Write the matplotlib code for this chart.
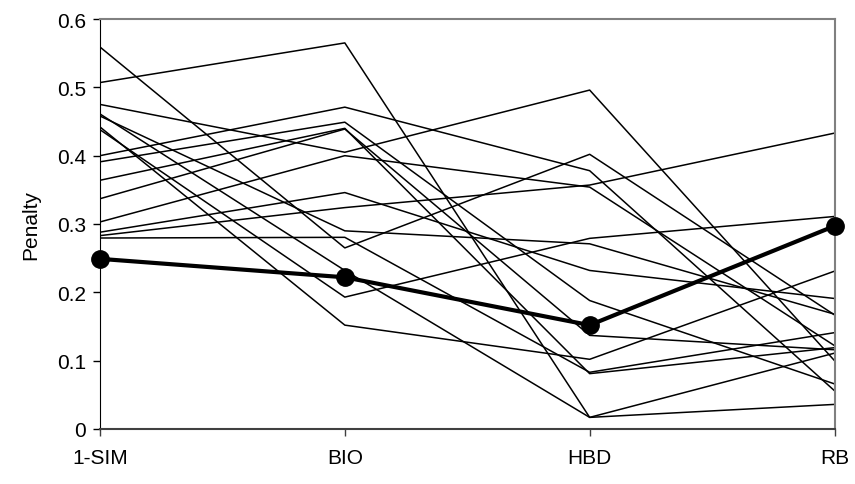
import matplotlib
matplotlib.use("Agg")
import matplotlib.pyplot as plt
import numpy as np

plt.rcParams["font.family"] = ["Liberation Sans", "DejaVu Sans"]

CATEGORIES = ["1-SIM", "BIO", "HBD", "RB"]

# individual problems (thin lines), values at 1-SIM, BIO, HBD, RB
L1 = [0.559, 0.265, 0.402, 0.167]
L2 = [0.507, 0.565, 0.017, 0.036]
L3 = [0.475, 0.405, 0.496, 0.100]
L4 = [0.461, 0.232, 0.017, 0.111]
L5 = [0.442, 0.152, 0.102, 0.231]
L6 = [0.438, 0.193, 0.279, 0.311]
L7 = [0.458, 0.290, 0.271, 0.168]
L8 = [0.2795, 0.2805, 0.083, 0.141]
L9 = [0.283, 0.324, 0.357, 0.433]
L10 = [0.288, 0.346, 0.232, 0.191]
L11 = [0.400, 0.471, 0.378, 0.056]
L12 = [0.337, 0.439, 0.137, 0.116]
L13 = [0.364, 0.440, 0.081, 0.119]
L14 = [0.391, 0.449, 0.188, 0.066]
L15 = [0.303, 0.400, 0.354, 0.122]
THIN = [L1, L2, L3, L4, L5, L6, L7, L8, L9, L10, L11, L12, L13, L14, L15]

# highlighted series (thick line with markers)
BOLD = [0.249, 0.222, 0.152, 0.297]

fig = plt.figure(figsize=(8.55, 4.85), dpi=100)
ax = fig.add_axes([100 / 855, 1 - 430 / 485, 734.5 / 855, 410 / 485])

x = np.arange(len(CATEGORIES))
for vals in THIN:
    ax.plot(x, vals, color="black", linewidth=1.1, zorder=2)
ax.plot(x, BOLD, color="black", linewidth=3.0, marker="o", markersize=12.5,
        zorder=3, clip_on=False)

ax.set_xlim(0, 3)
ax.set_ylim(0, 0.6)
ax.set_xticks(x)
ax.set_xticklabels(CATEGORIES)
ax.set_yticks(np.arange(0, 0.61, 0.1))
ax.set_yticklabels(["0", "0.1", "0.2", "0.3", "0.4", "0.5", "0.6"])
ax.tick_params(axis="both", direction="out", length=5, width=1,
               labelsize=15, colors="black")
ax.tick_params(axis="y", pad=5)
ax.tick_params(axis="x", pad=9, color="#404040")
ax.set_ylabel("Penalty", fontsize=15, labelpad=12)

ax.spines["left"].set_color("black")
ax.spines["bottom"].set_color("#404040")
ax.spines["bottom"].set_linewidth(1.5)
ax.spines["top"].set_color("#808080")
ax.spines["right"].set_color("#808080")
ax.spines["top"].set_linewidth(1.5)
ax.spines["right"].set_linewidth(1.5)

fig.savefig("out.png", facecolor="white")
